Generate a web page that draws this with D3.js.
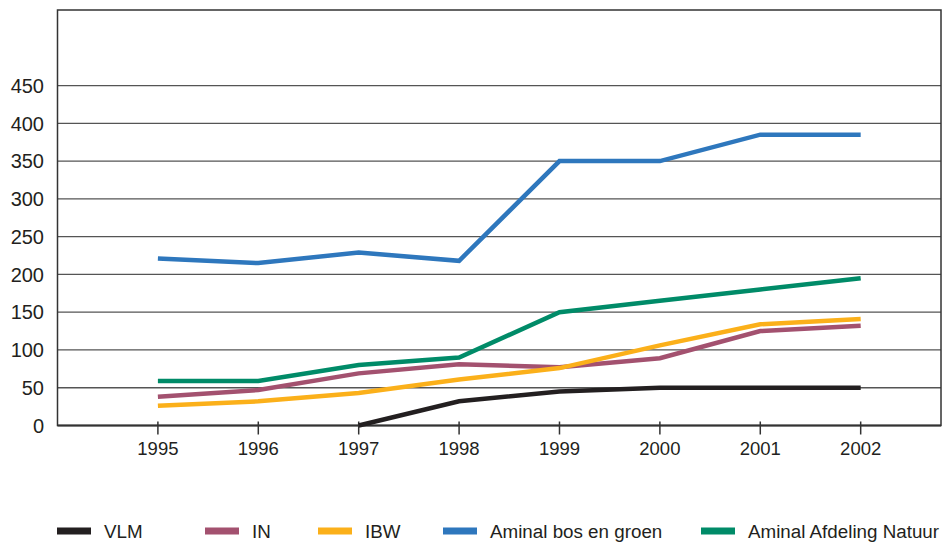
<!DOCTYPE html>
<html>
<head>
<meta charset="utf-8">
<script src="https://cdn.jsdelivr.net/npm/d3@7"></script>
<style>
  html, body { margin: 0; padding: 0; background: #fff; }
  svg { display: block; font-family: "Liberation Sans", Arial, Helvetica, sans-serif; }
</style>
</head>
<body>
<svg id="chart" width="943" height="543"></svg>
<script>
// Years on the horizontal axis
const years = [1995, 1996, 1997, 1998, 1999, 2000, 2001, 2002];

// Series values per year (null = no value that year)
const vlm      = [null, null, 0, 32, 45, 50, 50, 50];
const inst     = [38, 47, 69, 81, 77, 89, 125, 132];
const ibw      = [26, 32, 43, 61, 76, 106, 134, 141];
const bosGroen = [221, 215, 229, 218, 350, 350, 385, 385];
const natuur   = [59, 59, 80, 90, 150, 165, 180, 195];

// Series labels and colours (legend order)
const seriesNames  = ["VLM", "IN", "IBW", "Aminal bos en groen", "Aminal Afdeling Natuur"];
const seriesColors = ["#231f20", "#a3516f", "#fbb01a", "#2e77bd", "#008b68"];
const seriesValues = [vlm, inst, ibw, bosGroen, natuur];

// Y tick values
const yTicks = [0, 50, 100, 150, 200, 250, 300, 350, 400, 450];

const svg = d3.select("#chart");

const x = d3.scaleLinear().domain([1994, 2002.8]).range([57.5, 941]);
const y = d3.scaleLinear().domain([0, 550]).range([425.5, 10]);

// Horizontal grid lines
svg.append("g")
  .selectAll("line")
  .data(yTicks.filter(d => d > 0))
  .join("line")
  .attr("x1", x(1994)).attr("x2", x(2002.8))
  .attr("y1", d => y(d)).attr("y2", d => y(d))
  .attr("stroke", "#555").attr("stroke-width", 1.3);

// Frame
svg.append("rect")
  .attr("x", x(1994)).attr("y", y(550))
  .attr("width", x(2002.8) - x(1994)).attr("height", y(0) - y(550))
  .attr("fill", "none").attr("stroke", "#333").attr("stroke-width", 1.5);

// Baseline
svg.append("line")
  .attr("x1", x(1994)).attr("x2", x(2002.8))
  .attr("y1", y(0)).attr("y2", y(0))
  .attr("stroke", "#333").attr("stroke-width", 2.2);

// Year ticks
svg.append("g")
  .selectAll("line")
  .data(years)
  .join("line")
  .attr("x1", d => x(d)).attr("x2", d => x(d))
  .attr("y1", y(0) - 4).attr("y2", y(0) + 9)
  .attr("stroke", "#333").attr("stroke-width", 1.5);

// Year labels
svg.append("g")
  .selectAll("text")
  .data(years)
  .join("text")
  .attr("x", d => x(d)).attr("y", 455)
  .attr("text-anchor", "middle")
  .attr("font-size", 18.5).attr("fill", "#231f20")
  .text(d => d);

// Y labels
svg.append("g")
  .selectAll("text")
  .data(yTicks)
  .join("text")
  .attr("x", 44).attr("y", d => y(d))
  .attr("dy", "0.36em")
  .attr("text-anchor", "end")
  .attr("font-size", 20).attr("fill", "#231f20")
  .text(d => d);

// Lines
const line = d3.line()
  .defined(d => d.v !== null)
  .x(d => x(d.year))
  .y(d => y(d.v));

svg.append("g")
  .selectAll("path")
  .data(seriesValues.map((vals, i) => ({
    color: seriesColors[i],
    pts: years.map((yr, j) => ({ year: yr, v: vals[j] }))
  })))
  .join("path")
  .attr("d", d => line(d.pts))
  .attr("fill", "none")
  .attr("stroke", d => d.color)
  .attr("stroke-width", 4.5)
  .attr("stroke-linejoin", "miter")
  .attr("stroke-linecap", "butt");

// Legend
const legendX = [57, 205, 318, 443, 701];
const legend = svg.append("g")
  .selectAll("g")
  .data(seriesNames)
  .join("g")
  .attr("transform", (d, i) => `translate(${legendX[i]},531)`);

legend.append("rect")
  .attr("x", 0).attr("y", -3.5)
  .attr("width", 34).attr("height", 7)
  .attr("fill", (d, i) => seriesColors[i]);

legend.append("text")
  .attr("x", 47).attr("y", 0)
  .attr("dy", "0.36em")
  .attr("font-size", 18.8).attr("fill", "#231f20")
  .text(d => d);
</script>
</body>
</html>
